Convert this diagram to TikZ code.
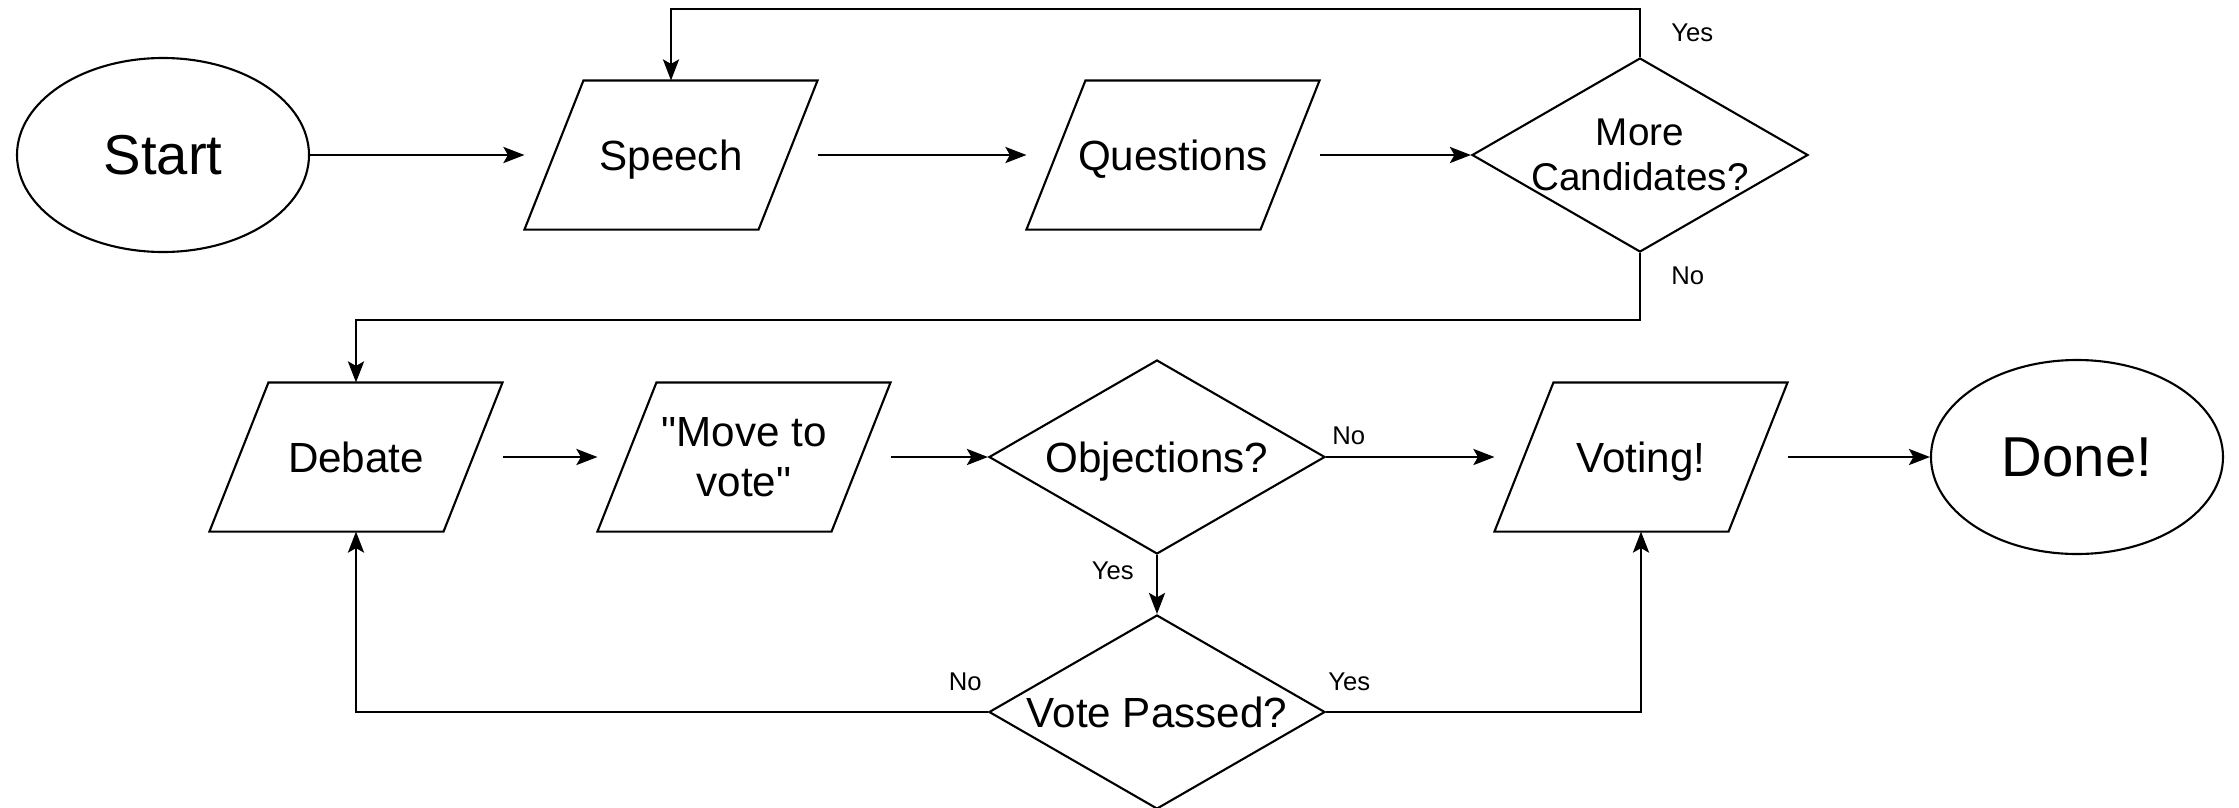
\documentclass[tikz,border=0pt]{standalone}
\usepackage{fontspec}
\setmainfont{Liberation Sans}
\usetikzlibrary{shapes.geometric,arrows.meta,positioning}

\begin{document}
\begin{tikzpicture}[line width=0.6pt,node distance=5cm,
  >={Stealth[length=6pt,width=4.6pt,inset=1.3pt]},
  end node/.style={ellipse,draw,minimum width=2.92cm,minimum height=1.94cm,inner sep=0pt,font=\fontsize{16}{19}\selectfont},
  io node/.style={rectangle,minimum width=2.91cm,minimum height=1.47cm,inner sep=0pt,align=center,text height=0.9em,text depth=0pt,font=\fontsize{12}{14.2}\selectfont,
    append after command={\pgfextra{\draw ([xshift=0.59cm]\tikzlastnode.north west) -- (\tikzlastnode.north east) -- ([xshift=-0.59cm]\tikzlastnode.south east) -- (\tikzlastnode.south west) -- cycle;}}},
  test node/.style={diamond,aspect=1.73,draw,minimum width=3.36cm,minimum height=1.94cm,inner sep=-1.5pt,align=center,text height=0.9em,text depth=0pt,font=\fontsize{12}{14}\selectfont},
  answer/.style={font=\fontsize{7.3}{9}\selectfont,inner sep=1.5pt}]
  \useasboundingbox (0,0) rectangle (22.39,-8.08);
  \node[end node] (start) at (1.63,-1.55) {Start};
  \node[io node] (speech) [right of=start, node distance=5.08cm] {Speech};
  \node[io node] (questions) [right of=speech, node distance=5.02cm] {Questions};
  \node[test node] (more) [right of=questions, node distance=4.67cm, text height={}, text depth={}, font=\fontsize{11}{12.8}\selectfont] {More\\Candidates?};
  \node[io node] (debate) at (3.56,-4.57) {Debate};
  \node[io node] (movevote) [right of=debate, node distance=3.88cm, text height={}, text depth={}] {\textquotedbl Move to\\vote\textquotedbl};
  \node[test node] (objections) [right of=movevote, node distance=4.13cm] {Objections?};
  \node[test node] (passed) [below of=objections, node distance=2.55cm] {Vote Passed?};
  \node[io node] (voting) [right of=objections, node distance=4.84cm] {Voting!};
  \node[end node] (done) [right of=voting, node distance=4.36cm] {Done!};

  \path[->]
    (start) edge (speech)
    (speech) edge (questions)
    (questions) edge (more)
    (debate) edge (movevote)
    (movevote) edge (objections)
    (objections) edge node[answer, pos=0, above right, yshift=0.06cm] {No} (voting)
    (objections) edge node[answer, pos=0.27, left=0.17cm] {Yes} (passed)
    (voting) edge (done);

  \draw[->] (more.north) -- ++(0,0.48) node[answer, pos=0.5, right=0.25cm] {Yes} -| (speech.north);
  \draw[->] (more.south) -- ++(0,-0.67) node[answer, pos=0.34, right=0.25cm] {No} -| (debate.north);
  \draw[->] (passed.west) node[answer, above left, yshift=0.15cm] {No} -| (debate.south);
  \draw[->] (passed.east) node[answer, above right, xshift=-0.04cm, yshift=0.15cm] {Yes} -| (voting.south);
\end{tikzpicture}
\end{document}
